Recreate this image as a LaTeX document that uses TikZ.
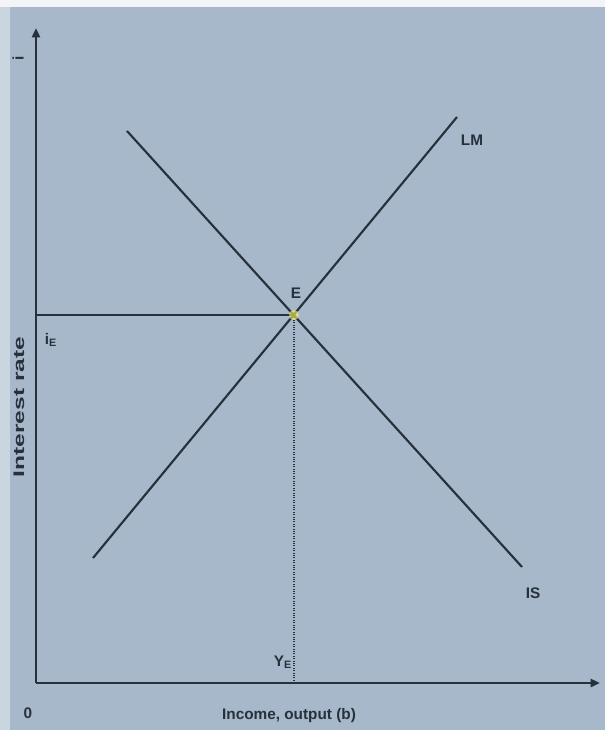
\documentclass[tikz,border=0pt]{standalone}
\usepackage{fontspec}
\setmainfont{Liberation Sans}
\usetikzlibrary{arrows.meta}
\definecolor{bg}{HTML}{A6B8CA}
\definecolor{strip}{HTML}{C9D6E0}
\definecolor{ink}{HTML}{27313B}
\tikzset{
  curve/.style={draw=ink, line width=1.6pt},
  axis/.style={draw=ink, line width=1.8pt},
  lbl/.style={font=\bfseries\fontsize{11.5}{13}\selectfont, text=ink, inner sep=1pt},
}
\begin{document}
\begin{tikzpicture}[x=0.75pt,y=-0.75pt]
\useasboundingbox (0,0) rectangle (605,730);
\fill[bg] (0,0) rectangle (605,730);
\fill[strip] (0,0) rectangle (10,730);
\fill[white!85!bg] (0,0) rectangle (605,7);
% coordinates
\coordinate (O) at (36,683);
\coordinate (ytip) at (36,28);
\coordinate (xtip) at (600,683);
\coordinate (E) at (294,315);
\coordinate (iE) at (36,315);
\coordinate (YE) at (294,683);
\coordinate (LMa) at (93,558);
\coordinate (LMb) at (457,117);
\coordinate (ISa) at (127,131);
\coordinate (ISb) at (522,567);
% guide lines
\draw[draw=ink, line width=1.4pt] (iE) -- (E);
\draw[draw=ink, line width=0.8pt, densely dotted] (E) -- (YE);
% curves
\draw[curve] (LMa) -- (LMb);
\draw[curve] (ISa) -- (ISb);
\fill[yellow!60!white, opacity=0.6] (E) circle (5);
% axes
\draw[axis, -{Triangle[length=7pt,width=6pt]}] (O) -- (ytip);
\draw[axis, -{Triangle[length=7pt,width=6pt]}] (O) -- (xtip);
% labels
\node[lbl, rotate=90] (ilab) at (18,58) {i};
\node[lbl] (iElab) at (51,340) {i\textsubscript{E}};
\node[lbl] (Elab) at (296,293) {E};
\node[lbl] (YElab) at (283,662) {Y\textsubscript{E}};
\node[lbl] (LMlab) at (472,140) {LM};
\node[lbl] (ISlab) at (533,593) {IS};
\node[lbl] (zero) at (28,713) {0};
\node[lbl] (xlab) at (289,716) {Income, output (b)};
\node[lbl, rotate=90, xscale=1.6] (ylab) at (19,407) {Interest rate};
\end{tikzpicture}
\end{document}
